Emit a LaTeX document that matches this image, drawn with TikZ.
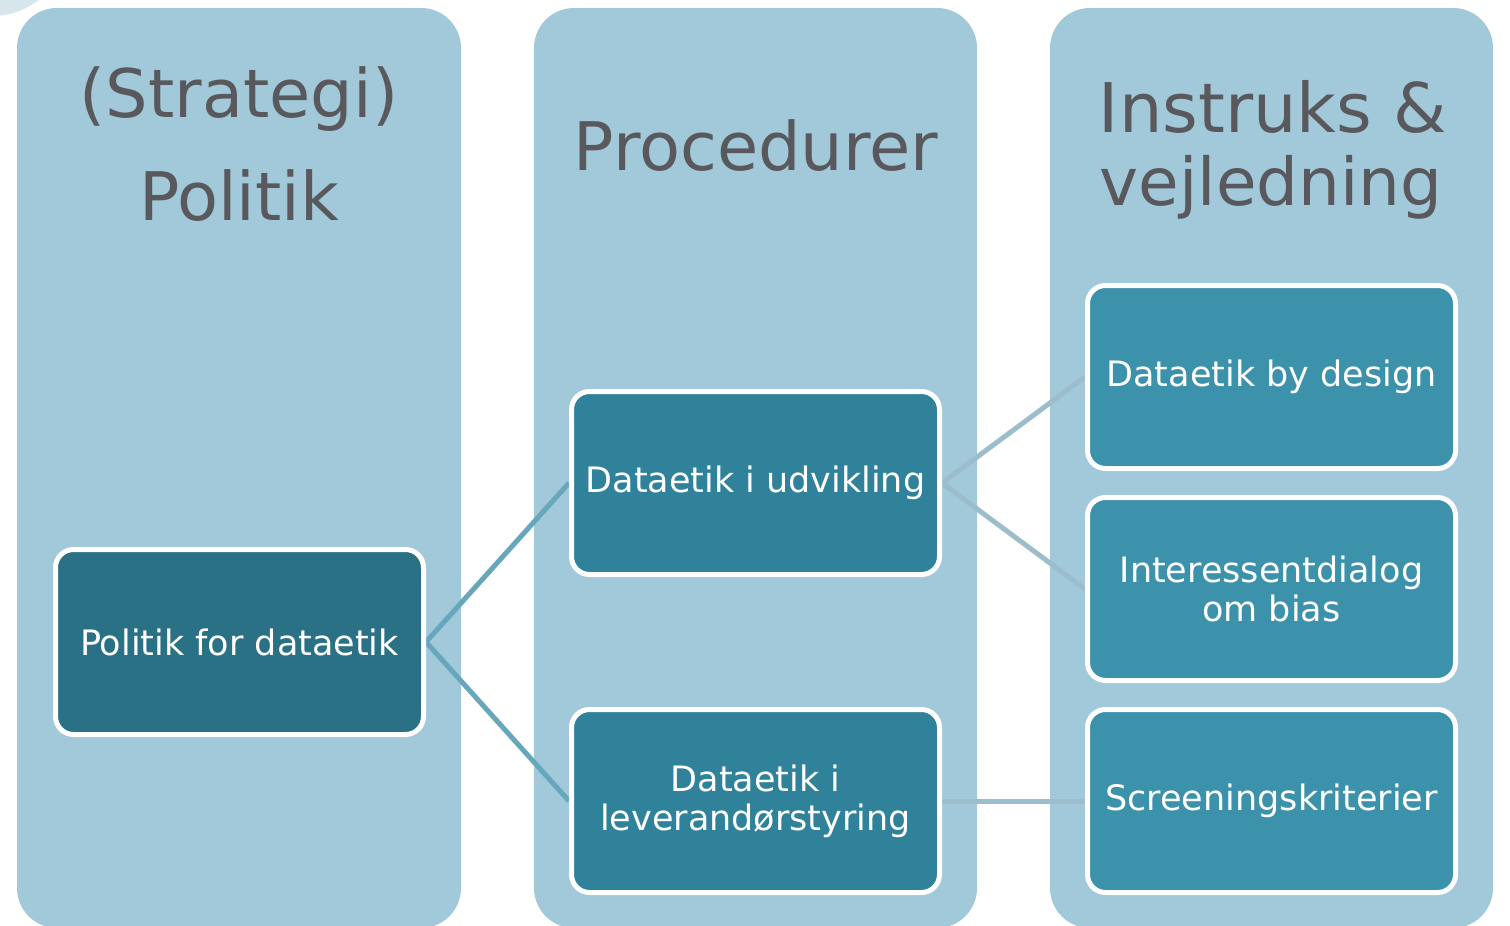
\documentclass[tikz,border=0pt]{standalone}
\usepackage{fontspec}
\setmainfont{DejaVu Sans}
\definecolor{colfill}{HTML}{A1C9D9}
\definecolor{headtxt}{HTML}{59585C}
\definecolor{boxA}{HTML}{2A7186}
\definecolor{boxB}{HTML}{2F8299}
\definecolor{boxC}{HTML}{3C91AB}
\definecolor{lineA}{HTML}{67A7BC}
\definecolor{lineB}{HTML}{9CBDCB}
\definecolor{blob}{HTML}{D7E6ED}
\pgfdeclarelayer{colbg}
\pgfdeclarelayer{links}
\pgfsetlayers{colbg,links,main}
\begin{document}
\begin{tikzpicture}[x=1pt,y=-1pt,
  column/.style={fill=colfill, rounded corners=40pt},
  head/.style={anchor=base, text=headtxt, font=\fontsize{67}{75}\selectfont, inner sep=0pt},
  stepbox/.style={draw=white, line width=5pt, rounded corners=18pt, minimum width=368pt, minimum height=183pt, text=white, align=center, font=\fontsize{35}{39}\selectfont, inner sep=0pt},
  link/.style={line width=5pt}]
\useasboundingbox (0,0) rectangle (1510,926);
\begin{pgfonlayer}{colbg}
\clip (0,0) rectangle (1510,926);
\fill[blob] (-8,-60) circle[radius=76];
\fill[column] (17,8) rectangle (461,928);
\fill[column] (534,8) rectangle (977,928);
\fill[column] (1050,8) rectangle (1493,928);
\end{pgfonlayer}

\node[head] (h1a) at (239,117) {(Strategi)};
\node[head] (h1b) at (239,220) {Politik};
\node[head] (h2) at (756,170) {Procedurer};
\node[head, font=\fontsize{68.5}{75}\selectfont] (h3a) at (1273,132) {Instruks \&};
\node[head, font=\fontsize{66}{75}\selectfont] (h3b) at (1271,205) {vejledning};

\node[stepbox, fill=boxA, minimum height=185pt] (pol) at (239.5,642) {Politik for dataetik};
\node[stepbox, fill=boxB] (udv) at (755.5,483) {Dataetik i udvikling};
\node[stepbox, fill=boxB] (lev) at (755.5,801) {Dataetik i\\leverandørstyring};
\node[stepbox, fill=boxC] (des) at (1271.5,377) {Dataetik by design};
\node[stepbox, fill=boxC] (int) at (1271.5,589) {Interessentdialog\\om bias};
\node[stepbox, fill=boxC] (scr) at (1271.5,801) {Screeningskriterier};

\begin{pgfonlayer}{links}
\draw[link, lineA] (pol.east) -- (udv.west);
\draw[link, lineA] (pol.east) -- (lev.west);
\draw[link, lineB] (udv.east) -- (des.west);
\draw[link, lineB] (udv.east) -- (int.west);
\draw[link, lineB] (lev.east) -- (scr.west);
\end{pgfonlayer}
\end{tikzpicture}
\end{document}
